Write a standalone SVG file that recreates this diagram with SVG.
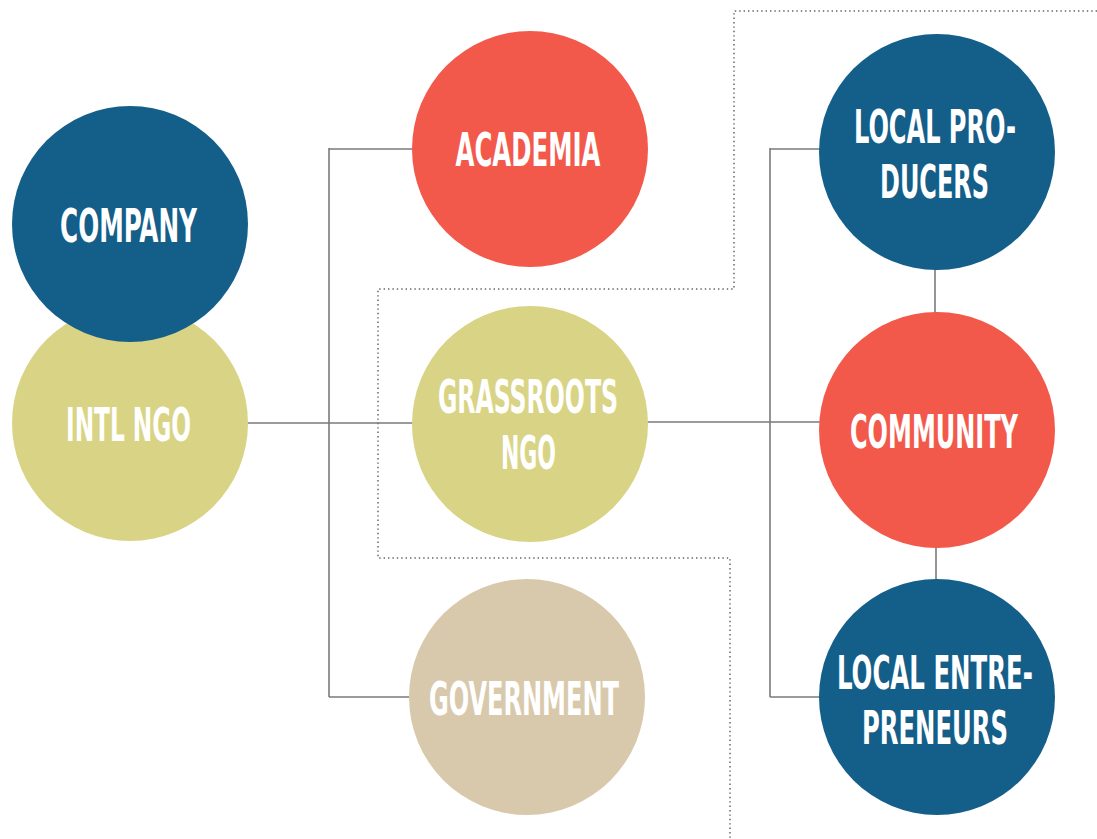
<svg xmlns="http://www.w3.org/2000/svg" width="1097" height="839" viewBox="0 0 1097 839">
  <style>
    .navy { fill: #145e8a; }
    .red { fill: #f2594b; }
    .olive { fill: #d9d485; }
    .beige { fill: #d9c9ac; }
    .lbl { fill: #ffffff; font-family: "DejaVu Sans Condensed", "Liberation Sans", sans-serif; font-weight: bold; font-size: 46px; text-anchor: middle; }
    .link { stroke: #7a7a7a; stroke-width: 1.6; fill: none; }
    .zone { stroke: #8a8a8a; stroke-width: 2; fill: none; stroke-dasharray: 1.4 3; }
  </style>
  <rect width="1097" height="839" fill="#ffffff"/>

  <!-- dotted boundary separating the middle tier -->
  <polyline class="zone" points="1097,11 734,11 734,289 378,289 378,558 730,558 730,839"/>

  <!-- connectors -->
  <g id="connectors">
    <line class="link" x1="329" y1="148" x2="329" y2="697"/>
    <line class="link" x1="329" y1="149" x2="414" y2="149"/>
    <line class="link" x1="246" y1="423" x2="414" y2="423"/>
    <line class="link" x1="329" y1="697" x2="411" y2="697"/>
    <line class="link" x1="646" y1="422" x2="820" y2="422"/>
    <line class="link" x1="770" y1="148" x2="770" y2="697"/>
    <line class="link" x1="770" y1="149" x2="820" y2="149"/>
    <line class="link" x1="770" y1="697" x2="820" y2="697"/>
    <line class="link" x1="935" y1="268" x2="935" y2="314"/>
    <line class="link" x1="936" y1="546" x2="936" y2="580"/>
  </g>

  <g id="intl-ngo">
    <circle class="olive" cx="130" cy="423" r="118"/>
    <text class="lbl" x="128.5" y="441" textLength="125" lengthAdjust="spacingAndGlyphs">INTL NGO</text>
  </g>

  <g id="company">
    <circle class="navy" cx="130" cy="224" r="118"/>
    <text class="lbl" x="128.5" y="242" textLength="137" lengthAdjust="spacingAndGlyphs">COMPANY</text>
  </g>

  <g id="academia">
    <circle class="red" cx="530" cy="149" r="118"/>
    <text class="lbl" x="528" y="166" textLength="145" lengthAdjust="spacingAndGlyphs">ACADEMIA</text>
  </g>

  <g id="grassroots-ngo">
    <circle class="olive" cx="530" cy="424" r="118"/>
    <text class="lbl" x="528" y="413" textLength="180" lengthAdjust="spacingAndGlyphs">GRASSROOTS</text>
    <text class="lbl" x="528.5" y="469" textLength="55" lengthAdjust="spacingAndGlyphs">NGO</text>
  </g>

  <g id="government">
    <circle class="beige" cx="527" cy="697" r="118"/>
    <text class="lbl" x="524" y="715" textLength="190" lengthAdjust="spacingAndGlyphs">GOVERNMENT</text>
  </g>

  <g id="local-producers">
    <circle class="navy" cx="937" cy="152" r="118"/>
    <text class="lbl" x="935" y="143" textLength="162" lengthAdjust="spacingAndGlyphs">LOCAL PRO-</text>
    <text class="lbl" x="934.5" y="198" textLength="109" lengthAdjust="spacingAndGlyphs">DUCERS</text>
  </g>

  <g id="community">
    <circle class="red" cx="937" cy="430" r="118"/>
    <text class="lbl" x="934" y="448" textLength="168" lengthAdjust="spacingAndGlyphs">COMMUNITY</text>
  </g>

  <g id="local-entrepreneurs">
    <circle class="navy" cx="937" cy="697" r="118"/>
    <text class="lbl" x="935" y="689" textLength="196" lengthAdjust="spacingAndGlyphs">LOCAL ENTRE-</text>
    <text class="lbl" x="935" y="744" textLength="146" lengthAdjust="spacingAndGlyphs">PRENEURS</text>
  </g>
</svg>
